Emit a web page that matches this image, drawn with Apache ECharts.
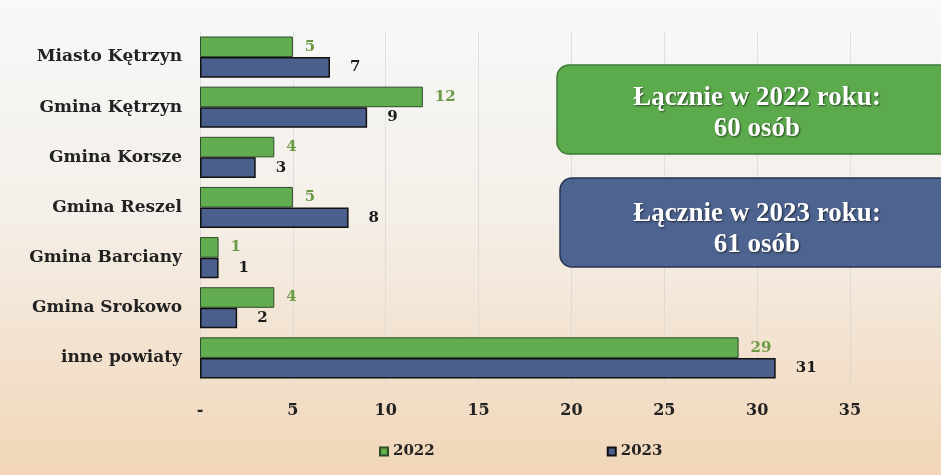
<!DOCTYPE html>
<html><head><meta charset="utf-8">
<script src="https://cdn.jsdelivr.net/npm/echarts@6/dist/echarts.min.js"></script>
<style>html,body{margin:0;padding:0;}#c{width:941px;height:475px;}</style>
</head><body><div id="c"></div>
<script>
const categories = ['Miasto Kętrzyn','Gmina Kętrzyn','Gmina Korsze','Gmina Reszel','Gmina Barciany','Gmina Srokowo','inne powiaty'];
const values2022 = [5,12,4,5,1,4,29];
const values2023 = [7,9,3,8,1,2,31];
const seriesNames = ['2022','2023'];
const total2022Text = ['Łącznie w 2022 roku:','60 osób'];
const total2023Text = ['Łącznie w 2023 roku:','61 osób'];

const serif = '"Liberation Serif", "DejaVu Serif", serif';
const wide = '"DejaVu Serif", serif';
const chart = echarts.init(document.getElementById('c'));
chart.setOption({
  animation: false,
  textStyle: {fontFamily: wide},
  grid: {left: 200, right: 91, top: 32, bottom: 92},
  legend: {
    data: seriesNames, left: 374, top: 439, itemWidth: 8, itemHeight: 8, itemGap: 172,
    icon: 'rect',
    textStyle: {fontFamily: wide, fontWeight: 'bold', fontSize: 15, color: '#222'}
  },
  xAxis: {
    type: 'value', min: 0, max: 35, interval: 5,
    axisLine: {show: false}, axisTick: {show: false},
    splitLine: {show: true, lineStyle: {color: 'rgba(210,210,210,0.6)', width: 1}},
    axisLabel: {
      margin: 20, fontFamily: wide, fontWeight: 'bold', fontSize: 16, color: '#222',
      formatter: v => v === 0 ? '-' : String(v)
    }
  },
  yAxis: {
    type: 'category', data: categories, inverse: true,
    axisLine: {show: false}, axisTick: {show: false},
    axisLabel: {margin: 18, fontFamily: wide, fontWeight: 'bold', fontSize: 17, color: '#222'}
  },
  series: [
    {
      name: seriesNames[0], type: 'bar', data: values2022, barGap: '0%', barCategoryGap: '18%',
      itemStyle: {color: '#62ad4f', borderColor: '#2f4a2a', borderWidth: 1},
      label: {show: true, position: 'right', distance: 12, fontFamily: wide, fontWeight: 'bold', fontSize: 15, color: '#6b9a45'}
    },
    {
      name: seriesNames[1], type: 'bar', data: values2023,
      itemStyle: {color: '#4b5f8c', borderColor: '#111', borderWidth: 1.5},
      label: {show: true, position: 'right', distance: 20, fontFamily: wide, fontWeight: 'bold', fontSize: 15, color: '#1a1a1a'}
    }
  ],
  graphic: [
    {type: 'rect', z: -100, shape: {x: 0, y: 0, width: 941, height: 475},
     style: {fill: new echarts.graphic.LinearGradient(0,0,0,1,[
       {offset: 0, color: '#f7f9fa'}, {offset: 0.45, color: '#f4efe8'}, {offset: 1, color: '#f1d6b8'}])}},
    {type: 'rect', z: 10, shape: {x: 557, y: 65, width: 400, height: 89, r: 12},
     style: {fill: '#5bab4c', stroke: '#3d7a35', lineWidth: 1.5}},
    {type: 'text', z: 11, style: {x: 757, y: 114, text: total2022Text.join('\n'), align: 'center', verticalAlign: 'middle',
      font: 'bold 27px ' + serif, fill: '#ffffff', lineHeight: 31,
      textShadowColor: 'rgba(0,0,0,0.6)', textShadowBlur: 2, textShadowOffsetX: 1, textShadowOffsetY: 1}},
    {type: 'rect', z: 10, shape: {x: 560, y: 178, width: 400, height: 89, r: 12},
     style: {fill: '#4d6390', stroke: '#26324f', lineWidth: 1.5}},
    {type: 'text', z: 11, style: {x: 757, y: 230, text: total2023Text.join('\n'), align: 'center', verticalAlign: 'middle',
      font: 'bold 27px ' + serif, fill: '#ffffff', lineHeight: 31,
      textShadowColor: 'rgba(0,0,0,0.6)', textShadowBlur: 2, textShadowOffsetX: 1, textShadowOffsetY: 1}}
  ]
});
</script></body></html>
